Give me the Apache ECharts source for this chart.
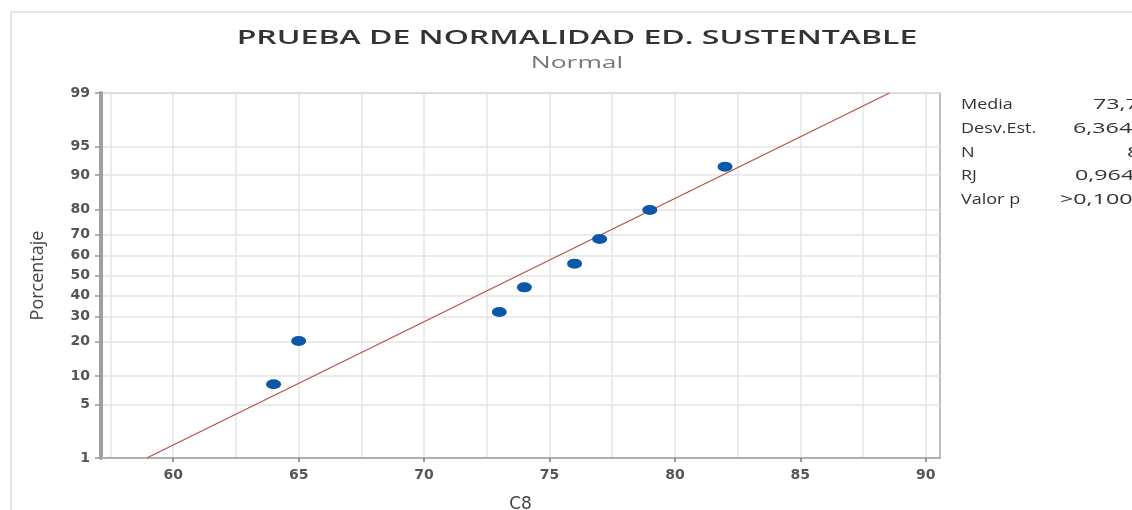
<!DOCTYPE html>
<html>
<head>
<meta charset="utf-8">
<script src="https://cdn.jsdelivr.net/npm/echarts@6/dist/echarts.min.js"></script>
<style>
  html, body { margin: 0; padding: 0; background: #fff; }
  #chart { width: 1132px; height: 510px; }
</style>
</head>
<body>
<div id="chart"></div>
<script>
// datos
const cValues = [64, 65, 73, 74, 76, 77, 79, 82]
const percentValues = [8.3, 20.2, 32.1, 44.0, 56.0, 67.9, 79.8, 91.7]
const percentTicks = [1, 5, 10, 20, 30, 40, 50, 60, 70, 80, 90, 95, 99]
const xLabelTicks = [60, 65, 70, 75, 80, 85, 90]
const xGridTicks = [57.5, 60, 62.5, 65, 67.5, 70, 72.5, 75, 77.5, 80, 82.5, 85, 87.5, 90]
const statNames = ['Media', 'Desv.Est.', 'N', 'RJ', 'Valor p']
const statValues = ['73,75', '6,364', '8', '0,964', '>0,100']
const media = 73.75
const desvEst = 6.364

// inversa de la normal (Acklam) para la escala de probabilidad
function probit(p) {
  const a = [-3.969683028665376e+01, 2.209460984245205e+02, -2.759285104469687e+02, 1.383577518672690e+02, -3.066479806614716e+01, 2.506628277459239e+00]
  const b = [-5.447609879822406e+01, 1.615858368580409e+02, -1.556989798598866e+02, 6.680131188771972e+01, -1.328068155288572e+01]
  const c = [-7.784894002430293e-03, -3.223964580411365e-01, -2.400758277161838e+00, -2.549732539343734e+00, 4.374664141464968e+00, 2.938163982698783e+00]
  const d = [7.784695709041462e-03, 3.224671290700398e-01, 2.445134137142996e+00, 3.754408661907416e+00]
  const plow = 0.02425
  let q, r
  if (p < plow) {
    q = Math.sqrt(-2 * Math.log(p))
    return (((((c[0] * q + c[1]) * q + c[2]) * q + c[3]) * q + c[4]) * q + c[5]) /
      ((((d[0] * q + d[1]) * q + d[2]) * q + d[3]) * q + 1)
  }
  if (p > 1 - plow) {
    q = Math.sqrt(-2 * Math.log(1 - p))
    return -(((((c[0] * q + c[1]) * q + c[2]) * q + c[3]) * q + c[4]) * q + c[5]) /
      ((((d[0] * q + d[1]) * q + d[2]) * q + d[3]) * q + 1)
  }
  q = p - 0.5
  r = q * q
  return (((((a[0] * r + a[1]) * r + a[2]) * r + a[3]) * r + a[4]) * r + a[5]) * q /
    (((((b[0] * r + b[1]) * r + b[2]) * r + b[3]) * r + b[4]) * r + 1)
}

const zTicks = percentTicks.map(p => probit(p / 100))
const zMin = zTicks[0]
const zMax = zTicks[zTicks.length - 1]
const xMin = 57.12
const xMax = 90.57

const chart = echarts.init(document.getElementById('chart'))

const statGraphics = []
statNames.forEach((name, i) => {
  statGraphics.push({
    type: 'text', x: 961, y: 105 + i * 23.7, scaleX: 1.2,
    style: {text: name, font: '15px "Open Sans"', fill: '#333', textVerticalAlign: 'middle'}
  })
})
const valueX = [1093, 1073, 1127, 1075, 1060]
statValues.forEach((v, i) => {
  statGraphics.push({
    type: 'text', x: valueX[i], y: 105 + i * 23.7, scaleX: 1.55,
    style: {text: v, font: '15px "Open Sans"', fill: '#333', textVerticalAlign: 'middle'}
  })
})

const option = {
  animation: false,
  grid: {
    left: 101, right: 192, top: 93, bottom: 52,
    outerBoundsMode: 'none',
    show: true, borderColor: '#aaaaaa', borderWidth: 1.5
  },
  graphic: [
    {
      type: 'polyline',
      shape: {points: [[11, 510], [11, 12], [1132, 12]]},
      style: {stroke: '#e4e4e4', lineWidth: 2, fill: null}
    },
    {
      type: 'text', x: 577, y: 38, scaleX: 1.6,
      style: {
        text: 'PRUEBA DE NORMALIDAD ED. SUSTENTABLE',
        font: '600 20px "Open Sans"', fill: '#333',
        textAlign: 'center', textVerticalAlign: 'middle'
      }
    },
    {
      type: 'text', x: 577, y: 63, scaleX: 1.65,
      style: {
        text: 'Normal', font: '16px "Open Sans"', fill: '#777',
        textAlign: 'center', textVerticalAlign: 'middle'
      }
    },
    ...statGraphics
  ],
  xAxis: [
    {
      type: 'value', min: xMin, max: xMax,
      name: 'C8', nameLocation: 'middle', nameGap: 38,
      nameTextStyle: {fontFamily: 'DejaVu Sans', fontSize: 17, color: '#444'},
      axisLine: {onZero: false, lineStyle: {color: '#b0b0b0', width: 2}},
      axisTick: {customValues: xLabelTicks, length: 4, lineStyle: {color: '#777', width: 1.5}},
      axisLabel: {
        customValues: xLabelTicks, margin: 10,
        fontFamily: 'DejaVu Sans', fontSize: 14, fontWeight: 'bold', color: '#555'
      },
      splitLine: {show: false}
    },
    {
      type: 'value', min: xMin, max: xMax, position: 'bottom',
      axisLine: {show: false, onZero: false},
      axisTick: {show: false, customValues: xGridTicks},
      axisLabel: {show: false},
      splitLine: {show: true, lineStyle: {color: '#e4e4e4', width: 1.5}}
    }
  ],
  yAxis: {
    type: 'value', min: zMin, max: zMax,
    name: 'Porcentaje', nameLocation: 'middle', nameRotate: 90, nameGap: 54,
    nameTextStyle: {fontFamily: 'Open Sans', fontSize: 18, color: '#444'},
    axisLine: {show: true, onZero: false, lineStyle: {color: '#a0a0a0', width: 4}},
    axisTick: {customValues: zTicks, length: 6, lineStyle: {color: '#999', width: 1.5}},
    axisLabel: {
      customValues: zTicks, margin: 11,
      fontFamily: 'DejaVu Sans', fontSize: 14, fontWeight: 'bold', color: '#555',
      formatter: (v) => {
        let best = 0
        zTicks.forEach((z, i) => { if (Math.abs(z - v) < Math.abs(zTicks[best] - v)) best = i })
        return String(percentTicks[best])
      }
    },
    splitLine: {show: true, lineStyle: {color: '#e4e4e4', width: 1.5}}
  },
  series: [
    {
      name: 'Ajuste',
      type: 'line',
      xAxisIndex: 0,
      data: [[media + desvEst * zMin, zMin], [media + desvEst * zMax, zMax]],
      symbol: 'none',
      lineStyle: {color: '#b9504b', width: 1.3},
      z: 2
    },
    {
      name: 'C8',
      type: 'scatter',
      xAxisIndex: 0,
      data: cValues.map((x, i) => [x, probit(percentValues[i] / 100)]),
      symbol: 'circle',
      symbolSize: [15, 10],
      itemStyle: {color: '#0b57a8', opacity: 1},
      z: 3
    }
  ]
}
chart.setOption(option)
</script>
</body>
</html>
